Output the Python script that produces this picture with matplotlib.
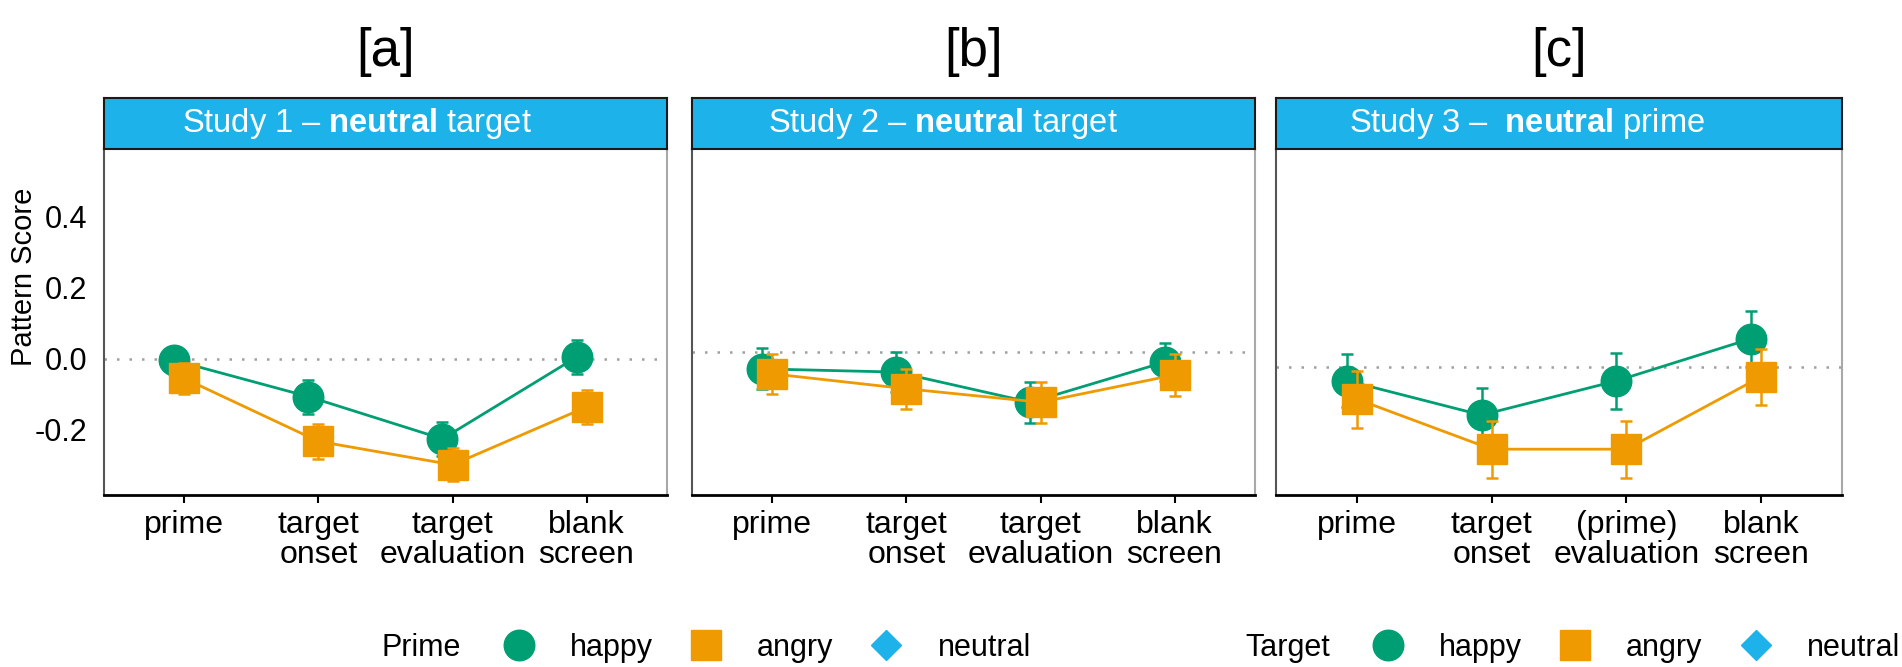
import numpy as np
import matplotlib.pyplot as plt
from matplotlib.lines import Line2D
from matplotlib import font_manager

plt.rcParams['font.family'] = ['Liberation Sans', 'DejaVu Sans']
plt.rcParams['mathtext.fontset'] = 'custom'
plt.rcParams['mathtext.rm'] = 'Liberation Sans'
plt.rcParams['mathtext.bf'] = 'Liberation Sans:bold'

# data
stages_ab = ['prime', 'target\nonset', 'target\nevaluation', 'blank\nscreen']
stages_c = ['prime', 'target\nonset', '(prime)\nevaluation', 'blank\nscreen']

happy_a = [-0.005, -0.107, -0.226, 0.004]
happy_a_se = [0.038, 0.048, 0.048, 0.048]
angry_a = [-0.056, -0.233, -0.299, -0.136]
angry_a_se = [0.044, 0.049, 0.046, 0.048]

happy_b = [-0.029, -0.038, -0.123, -0.010]
happy_b_se = [0.058, 0.056, 0.057, 0.053]
angry_b = [-0.043, -0.085, -0.123, -0.046]
angry_b_se = [0.057, 0.056, 0.057, 0.060]

happy_c = [-0.062, -0.159, -0.063, 0.056]
happy_c_se = [0.074, 0.077, 0.079, 0.079]
angry_c = [-0.114, -0.255, -0.255, -0.051]
angry_c_se = [0.080, 0.080, 0.080, 0.079]

ref_lines = [0.0, 0.018, -0.024]
strip_titles = ['Study 1 \u2013 $\\mathbf{neutral}$ target',
                'Study 2 \u2013 $\\mathbf{neutral}$ target',
                'Study 3 \u2013  $\\mathbf{neutral}$ prime']
strip_x = [0.45, 0.445, 0.443]
panel_tags = ['[a]', '[b]', '[c]']
legend_labels = ['happy', 'angry', 'neutral']

GREEN = '#009E73'
ORANGE = '#EE9A00'
BLUE = '#1DB3EA'

installed = {f.name for f in font_manager.fontManager.ttflist}
tag_font = 'Liberation Sans Narrow' if 'Liberation Sans Narrow' in installed else 'Liberation Sans'

W, H = 1902, 667
fig = plt.figure(figsize=(W / 100, H / 100), dpi=100)


def rect(x0, x1, y0, y1):
    return [x0 / W, 1 - y1 / H, (x1 - x0) / W, (y1 - y0) / H]


panels = [(104, 667), (692, 1255), (1276, 1842)]
series = [
    (happy_a, happy_a_se, angry_a, angry_a_se, stages_ab),
    (happy_b, happy_b_se, angry_b, angry_b_se, stages_ab),
    (happy_c, happy_c_se, angry_c, angry_c_se, stages_c),
]

for i, ((l, r), (hap, hap_se, ang, ang_se, labels)) in enumerate(zip(panels, series)):
    ax = fig.add_axes(rect(l, r, 149, 495))
    x = np.arange(1, 5)
    ax.axhline(ref_lines[i], color='#a0a0a0', ls=(0, (1, 4)), lw=1.8, zorder=1)
    ax.errorbar(x - 0.075, hap, yerr=hap_se, color=GREEN, lw=2, marker='o', ms=22,
                capsize=4, elinewidth=1.8, capthick=1.8, zorder=3)
    ax.errorbar(x, ang, yerr=ang_se, color=ORANGE, lw=2, marker='s', ms=21.5,
                capsize=4, elinewidth=1.8, capthick=1.8, zorder=4)
    ax.set_xlim(0.4, 4.6)
    ax.set_ylim(-0.384, 0.59)
    ax.set_xticks(x)
    ax.set_xticklabels(labels, fontsize=23, linespacing=1.0)
    ax.tick_params(axis='x', length=6, width=1.5, pad=5)
    if i == 0:
        ax.set_yticks([-0.2, 0.0, 0.2, 0.4])
        ax.set_yticklabels(['-0.2', '0.0', '0.2', '0.4'], fontsize=22)
        ax.tick_params(axis='y', length=0, pad=12)
    else:
        ax.set_yticks([])
    ax.spines['top'].set_visible(False)
    ax.spines['bottom'].set_color('black')
    ax.spines['bottom'].set_linewidth(2)
    ax.spines['left'].set_color('#555555')
    ax.spines['left'].set_linewidth(1.5)
    ax.spines['right'].set_color('#a8a8a8')
    ax.spines['right'].set_linewidth(1.5)

    sx = fig.add_axes(rect(l, r, 98, 149))
    sx.set_facecolor(BLUE)
    sx.set_xticks([])
    sx.set_yticks([])
    for s in sx.spines.values():
        s.set_color('#1a1a1a')
        s.set_linewidth(1.5)
    sx.text(strip_x[i], 0.5, strip_titles[i], color='white', fontsize=23.5,
            ha='center', va='center', transform=sx.transAxes)

    fig.text((l + r) / 2 / W, 1 - 52 / H, panel_tags[i], fontsize=38,
             family=[tag_font, 'DejaVu Sans'], ha='center', va='center')

fig.text(24 / W, 1 - 277 / H, 'Pattern Score', fontsize=21, rotation=90,
         ha='center', va='center')

handles = [Line2D([], [], ls='none', marker='o', ms=22, color=GREEN),
           Line2D([], [], ls='none', marker='s', ms=21, color=ORANGE),
           Line2D([], [], ls='none', marker='D', ms=15, color=BLUE)]

leg_y = 1 - 648 / H
leg_kw = dict(ncol=3, frameon=False, fontsize=22, handlelength=1.15,
              handletextpad=1.1, columnspacing=1.16, borderaxespad=0, borderpad=0)
leg1 = fig.legend(handles, legend_labels, loc='center left',
                  bbox_to_anchor=(501 / W, leg_y), **leg_kw)
leg2 = fig.legend(handles, legend_labels, loc='center right',
                  bbox_to_anchor=(1900 / W, leg_y), **leg_kw)
fig.canvas.draw()
for title, leg in [('Prime', leg1), ('Target', leg2)]:
    x0 = leg.get_window_extent().x0
    fig.text((x0 - 40) / W, leg_y, title, fontsize=22, va='center', ha='right')

fig.savefig('out.png', dpi=100)
